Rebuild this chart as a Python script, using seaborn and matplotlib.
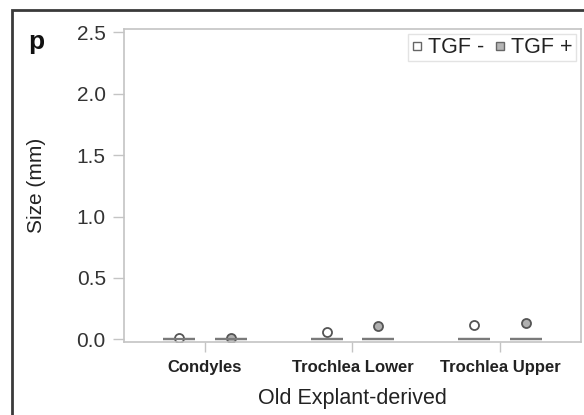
import matplotlib
matplotlib.use("Agg")
import matplotlib.pyplot as plt
import seaborn as sns
import pandas as pd
from matplotlib.patches import Rectangle
from matplotlib.lines import Line2D

# ---- data ----
categories = ["Condyles", "Trochlea Lower", "Trochlea Upper"]
hue_levels = ["TGF -", "TGF +"]
condyles_minus = [0, 0, 0, 0, 0, 0, 0, 0.012]
condyles_plus = [0, 0, 0, 0, 0, 0, 0, 0.012]
lower_minus = [0, 0, 0, 0, 0, 0, 0, 0.061]
lower_plus = [0, 0, 0, 0, 0, 0, 0, 0.110]
upper_minus = [0, 0, 0, 0, 0, 0, 0, 0.118]
upper_plus = [0, 0, 0, 0, 0, 0, 0, 0.132]
y_ticks = [0.0, 0.5, 1.0, 1.5, 2.0, 2.5]

series = {
    ("Condyles", "TGF -"): condyles_minus,
    ("Condyles", "TGF +"): condyles_plus,
    ("Trochlea Lower", "TGF -"): lower_minus,
    ("Trochlea Lower", "TGF +"): lower_plus,
    ("Trochlea Upper", "TGF -"): upper_minus,
    ("Trochlea Upper", "TGF +"): upper_plus,
}
rows = []
for (cat, hue), vals in series.items():
    for v in vals:
        rows.append({"site": cat, "group": hue, "size": v})
df = pd.DataFrame(rows)

sns.set_style("white")
plt.rcParams["font.family"] = ["Liberation Sans", "DejaVu Sans"]

fig = plt.figure(figsize=(5.84, 4.15), dpi=100)
ax = fig.add_axes([0.212, 0.177, 0.783, 0.754])

line_col = "#7a7a7a"
sns.boxplot(data=df, x="site", y="size", hue="group", order=categories,
            hue_order=hue_levels, palette={"TGF -": "white", "TGF +": "#b5b5b5"},
            width=0.70, gap=0.38, linecolor=line_col, linewidth=1.6,
            whis=1.5, showcaps=False, legend=False, ax=ax,
            flierprops=dict(marker="o", markersize=6.5, markeredgewidth=1.3,
                            markeredgecolor="#555555"))

flier_faces = ["white", "#b0b0b0"]
for cont, fc in zip(ax.containers, flier_faces):
    for fl in cont.fliers:
        fl.set_markerfacecolor(fc)
        fl.set_markeredgecolor("#555555")

ax.set_xlim(-0.55, 2.55)
ax.set_ylim(-0.018, 2.53)
ax.set_yticks(y_ticks)
ax.set_yticklabels([f"{t:.1f}" for t in y_ticks])

spine_col = "#c4c4c4"
for s in ax.spines.values():
    s.set_visible(True)
    s.set_color(spine_col)
    s.set_linewidth(1.2)

ax.tick_params(axis="y", which="major", left=True, length=8, width=1.0,
               color=spine_col, labelsize=15, labelcolor="#333333", pad=5)
ax.tick_params(axis="x", which="major", bottom=True, length=7, width=1.0,
               color=spine_col, labelsize=12, labelcolor="#222222", pad=6)
for lab in ax.get_xticklabels():
    lab.set_fontweight("bold")

ax.set_xlabel("Old Explant-derived", fontsize=15.5, color="#222222", labelpad=10)
ax.set_ylabel("Size (mm)", fontsize=15, color="#222222", labelpad=22)

handles = [
    Line2D([], [], linestyle="none", marker="s", markersize=6,
           markerfacecolor="white", markeredgecolor="#666666", markeredgewidth=1.0),
    Line2D([], [], linestyle="none", marker="s", markersize=6,
           markerfacecolor="#b5b5b5", markeredgecolor="#666666", markeredgewidth=1.0),
]
leg = ax.legend(handles, hue_levels, loc="upper right", ncol=2, fontsize=15.5,
                frameon=True, fancybox=False, handlelength=0.5, handletextpad=0.25,
                columnspacing=0.5, borderpad=0.15, borderaxespad=0.25)
leg.get_frame().set_edgecolor("#dddddd")
leg.get_frame().set_linewidth(1.0)
for t in leg.get_texts():
    t.set_color("#222222")

# panel letter
fig.text(28 / 584, 1 - 42 / 415, "p", fontsize=19, fontweight="bold",
         color="#111111", va="center", ha="left")

# outer frame of the figure panel
fig.patches.append(Rectangle((12 / 584, -0.1), 1.2, 1 - 10 / 415 + 0.1,
                             transform=fig.transFigure, fill=False,
                             edgecolor="#3a3a3a", linewidth=2.0, clip_on=False))

fig.savefig("out.png", dpi=100)
